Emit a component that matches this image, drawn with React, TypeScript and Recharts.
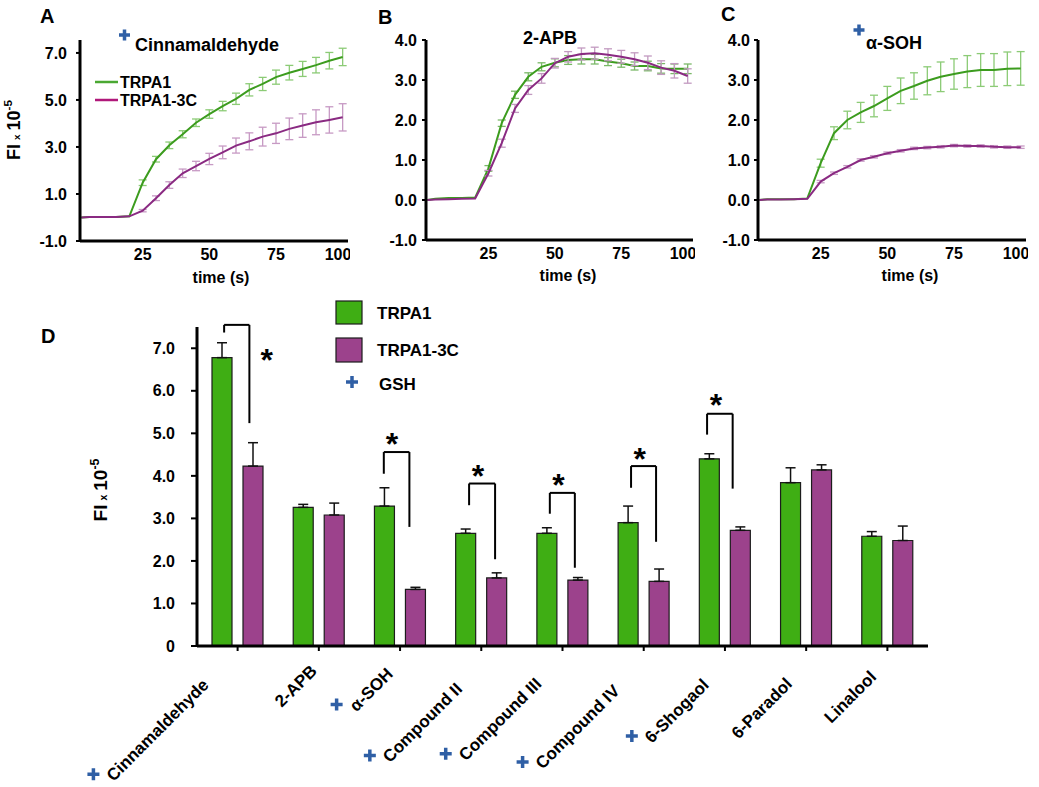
import React from 'react';
import { LineChart, Line, XAxis, YAxis, ErrorBar, BarChart, Bar, ReferenceLine, ReferenceDot } from 'recharts';

const FONT = 'Arial, "Liberation Sans", Helvetica, sans-serif';
const GREEN = '#3c9c1e';
const PURPLE = '#8a2a82';
const BAR_GREEN = '#3fae14';
const BAR_PURPLE = '#9c428c';
const PLUS_BLUE = '#2f5fa5';

// ---------- time courses (panels A-C) ----------
const times = [2, 5, 10, 15, 20, 25, 30, 35, 40, 45, 50, 55, 60, 65, 70, 75, 80, 85, 90, 95, 100];

const cinnTRPA1 = [0, 0.02, 0.02, 0.02, 0.05, 1.48, 2.48, 3.07, 3.54, 4.03, 4.4, 4.74, 5.05, 5.43, 5.68, 5.97, 6.16, 6.32, 6.48, 6.67, 6.83];
const cinnTRPA1Err = [0, 0, 0, 0, 0, 0.12, 0.12, 0.14, 0.15, 0.16, 0.18, 0.2, 0.24, 0.26, 0.28, 0.3, 0.31, 0.32, 0.33, 0.35, 0.37];
const cinnTRPA13C = [0, 0.02, 0.02, 0.02, 0.05, 0.29, 0.82, 1.38, 1.88, 2.19, 2.49, 2.77, 3.06, 3.24, 3.44, 3.58, 3.77, 3.91, 4.05, 4.15, 4.26];
const cinnTRPA13CErr = [0, 0, 0, 0, 0, 0.05, 0.1, 0.14, 0.18, 0.2, 0.24, 0.27, 0.32, 0.36, 0.4, 0.43, 0.46, 0.5, 0.53, 0.56, 0.58];

const apbTRPA1 = [0, 0.03, 0.05, 0.05, 0.06, 0.79, 1.92, 2.63, 3.08, 3.33, 3.43, 3.5, 3.52, 3.52, 3.46, 3.42, 3.35, 3.35, 3.29, 3.28, 3.28];
const apbTRPA1Err = [0, 0, 0, 0, 0, 0.07, 0.08, 0.09, 0.1, 0.1, 0.1, 0.11, 0.12, 0.12, 0.1, 0.1, 0.1, 0.12, 0.12, 0.12, 0.12];
const apbTRPA13C = [0, 0.01, 0.02, 0.03, 0.04, 0.67, 1.42, 2.29, 2.75, 3.04, 3.42, 3.58, 3.65, 3.67, 3.63, 3.58, 3.52, 3.43, 3.31, 3.23, 3.1];
const apbTRPA13CErr = [0, 0, 0, 0, 0, 0.07, 0.1, 0.1, 0.11, 0.12, 0.12, 0.13, 0.15, 0.15, 0.15, 0.16, 0.16, 0.17, 0.17, 0.18, 0.18];

const sohTRPA1 = [0, 0.02, 0.02, 0.02, 0.04, 0.92, 1.67, 2.0, 2.19, 2.35, 2.54, 2.73, 2.85, 2.98, 3.08, 3.15, 3.21, 3.25, 3.25, 3.28, 3.29];
const sohTRPA1Err = [0, 0, 0, 0, 0, 0.1, 0.16, 0.22, 0.25, 0.27, 0.3, 0.32, 0.33, 0.35, 0.37, 0.38, 0.4, 0.41, 0.41, 0.42, 0.42];
const sohTRPA13C = [0, 0.01, 0.01, 0.02, 0.03, 0.46, 0.67, 0.83, 1.0, 1.08, 1.17, 1.23, 1.29, 1.31, 1.33, 1.36, 1.35, 1.35, 1.33, 1.32, 1.32];
const sohTRPA13CErr = [0, 0, 0, 0, 0, 0.03, 0.03, 0.03, 0.03, 0.03, 0.03, 0.03, 0.03, 0.03, 0.03, 0.03, 0.03, 0.03, 0.03, 0.03, 0.03];

const timeTicks = [25, 50, 75, 100];
const ticksA = [-1, 1, 3, 5, 7];
const ticksBC = [-1, 0, 1, 2, 3, 4];

// ---------- summary bars (panel D) ----------
const categories = ['Cinnamaldehyde', '2-APB', 'α-SOH', 'Compound II', 'Compound III', 'Compound IV', '6-Shogaol', '6-Paradol', 'Linalool'];
const categoryPos = [0.5, 1.5, 2.5, 3.5, 4.5, 5.5, 6.5, 7.5, 8.5];
const withGSH = [true, false, true, true, true, true, true, false, false];
const trpa1Mean = [6.78, 3.26, 3.29, 2.65, 2.65, 2.9, 4.4, 3.84, 2.58];
const trpa1Sem = [0.35, 0.07, 0.43, 0.1, 0.13, 0.39, 0.12, 0.35, 0.11];
const trpa13cMean = [4.23, 3.08, 1.33, 1.6, 1.55, 1.52, 2.72, 4.14, 2.48];
const trpa13cSem = [0.55, 0.28, 0.05, 0.12, 0.06, 0.29, 0.08, 0.12, 0.34];
const barTicks = [0, 1, 2, 3, 4, 5, 6, 7];

// significance brackets
const sigIndex = [0, 2, 3, 4, 5, 6];
const sigTop = [7.55, 4.56, 3.82, 3.6, 4.23, 5.46];
const sigLeftEnd = [7.37, 4.05, 3.31, 3.11, 3.72, 4.97];
const sigRightEnd = [5.24, 2.8, 2.04, 1.84, 2.45, 3.7];
const sigStarY = [6.88, 4.91, 4.15, 3.96, 4.56, 5.84];
const sigStarDx = [0.36, -0.1, -0.04, -0.05, -0.05, -0.11];
const sigLeftDx = [-0.166, -0.2, -0.15, -0.156, -0.156, -0.22];
const sigRightDx = [0.145, 0.115, 0.17, 0.152, 0.152, 0.095];

// label anchor (end of baseline) offsets from tick / axis point
const labelEnd: [number, number][] = [[-28, 40], [-1, 26], [-6, 29], [-18, 44], [-20, 39], [-23, 46], [-15, 40], [-13, 39], [-10, 32]];

const buildSeries = (g: number[], ge: number[], p: number[], pe: number[]) =>
  times.map((t, i) => ({ t, g: g[i], ge: ge[i], p: p[i], pe: pe[i] }));

const dataA = buildSeries(cinnTRPA1, cinnTRPA1Err, cinnTRPA13C, cinnTRPA13CErr);
const dataB = buildSeries(apbTRPA1, apbTRPA1Err, apbTRPA13C, apbTRPA13CErr);
const dataC = buildSeries(sohTRPA1, sohTRPA1Err, sohTRPA13C, sohTRPA13CErr);

const barData = categories.map((c, i) => ({
  name: c,
  pos: categoryPos[i],
  a: trpa1Mean[i],
  ae: [0, trpa1Sem[i]],
  b: trpa13cMean[i],
  be: [0, trpa13cSem[i]],
}));

let ctx: CanvasRenderingContext2D | null = null;
const textWidth = (s: string, font: string) => {
  if (typeof document === 'undefined') return s.length * 9;
  if (!ctx) ctx = document.createElement('canvas').getContext('2d');
  if (!ctx) return s.length * 9;
  ctx.font = font;
  return ctx.measureText(s).width;
};

const Plus = ({ cx, cy, s = 6, w = 3.5 }: { cx: number; cy: number; s?: number; w?: number }) => (
  <path d={`M${cx - s} ${cy}H${cx + s}M${cx} ${cy - s}V${cy + s}`} stroke={PLUS_BLUE} strokeWidth={w} fill="none" />
);

const CategoryTick = (props: any) => {
  const { x, y, payload } = props;
  const i = categories.indexOf(payload.value);
  const [ox, oy] = labelEnd[i];
  const ax = Number(x) + ox;
  const ay = Number(y) - 5 + oy;
  const w = textWidth(payload.value, `bold 17px ${FONT}`);
  const sx = ax - w * Math.SQRT1_2;
  const sy = ay + w * Math.SQRT1_2;
  return (
    <g>
      <g transform={`translate(${ax},${ay}) rotate(-45)`}>
        <text x={0} y={0} textAnchor="end" fontSize={17} fontWeight="bold" fontFamily={FONT} fill="#000">
          {payload.value}
        </text>
      </g>
      {withGSH[i] && <Plus cx={sx - 20} cy={sy - 8} />}
    </g>
  );
};

const tickStyle = { fontSize: 16, fontWeight: 'bold', fill: '#000', fontFamily: FONT } as any;

type PanelProps = {
  left: number; width: number; data: any[]; yDomain: [number, number]; yTicks: number[];
  bottom: number; tickMargin: number; gErr: string; pErr: string;
};

const TimePanel = ({ left, width, data, yDomain, yTicks, bottom, tickMargin, gErr, pErr }: PanelProps) => (
  <div style={{ position: 'absolute', left, top: 0 }}>
    <LineChart width={width} height={290} data={data} margin={{ top: 40, right: 2, bottom: 0, left: 0 }}>
      <XAxis type="number" dataKey="t" domain={[1.5, 102]} ticks={timeTicks} allowDataOverflow tickLine={false}
        tickSize={6} tickMargin={2} axisLine={{ stroke: '#000', strokeWidth: 3 }} tick={tickStyle} height={bottom} />
      <YAxis type="number" domain={yDomain} ticks={yTicks} allowDataOverflow width={80} tickSize={4} tickMargin={tickMargin}
        tickLine={{ stroke: '#000', strokeWidth: 2 }} axisLine={{ stroke: '#000', strokeWidth: 3 }} tick={tickStyle}
        tickFormatter={(v: number) => v.toFixed(1)} />
      <Line type="linear" dataKey="g" stroke={GREEN} strokeWidth={2} dot={false} isAnimationActive={false}>
        <ErrorBar dataKey="ge" width={4} stroke={gErr} strokeWidth={1.3} direction="y" isAnimationActive={false} />
      </Line>
      <Line type="linear" dataKey="p" stroke={PURPLE} strokeWidth={2} dot={false} isAnimationActive={false}>
        <ErrorBar dataKey="pe" width={4} stroke={pErr} strokeWidth={1.3} direction="y" isAnimationActive={false} />
      </Line>
    </LineChart>
  </div>
);

const FILabel = ({ x, y, size }: { x: number; y: number; size: number }) => (
  <text transform={`translate(${x},${y}) rotate(-90)`} textAnchor="middle" fontFamily={FONT} fontWeight="bold" fill="#000">
    <tspan fontSize={size}>FI</tspan>
    <tspan fontSize={size * 0.55} dx={4}>x</tspan>
    <tspan fontSize={size} dx={4}>10</tspan>
    <tspan fontSize={size * 0.65} dy={-size * 0.42}>-5</tspan>
  </text>
);

export default function App() {
  return (
    <div style={{ position: 'absolute', left: 0, top: 0, width: 1039, height: 787, background: '#fff', overflow: 'hidden' }}>
      <TimePanel left={0} width={350} data={dataA} yDomain={[-1, 7.55]} yTicks={ticksA} bottom={49} tickMargin={9} gErr="#8ccb76" pErr="#c79ac4" />
      <TimePanel left={346} width={349} data={dataB} yDomain={[-1, 4]} yTicks={ticksBC} bottom={50} tickMargin={5} gErr="#7ab868" pErr="#c29ac0" />
      <TimePanel left={678} width={350} data={dataC} yDomain={[-1, 4]} yTicks={ticksBC} bottom={50} tickMargin={4} gErr="#8ccb76" pErr="#c79ac4" />

      <div style={{ position: 'absolute', left: 0, top: 300 }}>
        <BarChart width={940} height={487} data={barData} margin={{ top: 27, right: 12, bottom: 0, left: 0 }} barSize={20} barGap={11}>
          <XAxis dataKey="name" type="category" interval={0} height={141} tickSize={5} tickMargin={0}
            tickLine={{ stroke: '#000', strokeWidth: 2 }} axisLine={{ stroke: '#000', strokeWidth: 3 }} tick={<CategoryTick />} />
          <XAxis xAxisId="n" dataKey="pos" type="number" scale="linear" domain={[0, 9]} allowDataOverflow hide />
          <YAxis type="number" domain={[0, 7.5]} ticks={barTicks} allowDataOverflow width={197} tickSize={6} tickMargin={16}
            tickLine={{ stroke: '#000', strokeWidth: 2 }} axisLine={{ stroke: '#000', strokeWidth: 3 }} tick={tickStyle}
            tickFormatter={(v: number) => (v === 0 ? '0' : v.toFixed(1))} />
          <Bar dataKey="a" fill={BAR_GREEN} stroke="#1c1c1c" strokeWidth={1.2} isAnimationActive={false}>
            <ErrorBar dataKey="ae" width={5} stroke="#111" strokeWidth={1.5} direction="y" isAnimationActive={false} />
          </Bar>
          <Bar dataKey="b" fill={BAR_PURPLE} stroke="#1c1c1c" strokeWidth={1.2} isAnimationActive={false}>
            <ErrorBar dataKey="be" width={5} stroke="#111" strokeWidth={1.5} direction="y" isAnimationActive={false} />
          </Bar>
          {sigIndex.map((ci, k) => {
            const c = categoryPos[ci];
            return (
              <React.Fragment key={k}>
                <ReferenceLine xAxisId="n" ifOverflow="visible" stroke="#000" strokeWidth={2}
                  segment={[{ x: c + sigLeftDx[k], y: sigLeftEnd[k] }, { x: c + sigLeftDx[k], y: sigTop[k] }]} />
                <ReferenceLine xAxisId="n" ifOverflow="visible" stroke="#000" strokeWidth={2}
                  segment={[{ x: c + sigLeftDx[k], y: sigTop[k] }, { x: c + sigRightDx[k], y: sigTop[k] }]} />
                <ReferenceLine xAxisId="n" ifOverflow="visible" stroke="#000" strokeWidth={2}
                  segment={[{ x: c + sigRightDx[k], y: sigTop[k] }, { x: c + sigRightDx[k], y: sigRightEnd[k] }]} />
                <ReferenceDot xAxisId="n" x={c + sigStarDx[k]} y={sigStarY[k]} r={0} ifOverflow="visible"
                  shape={(p: any) => (
                    <text x={p.cx} y={p.cy + 18} textAnchor="middle" fontSize={32} fontWeight="bold" fontFamily={FONT} fill="#000">*</text>
                  )} />
              </React.Fragment>
            );
          })}
        </BarChart>
      </div>

      <svg width={1039} height={787} style={{ position: 'absolute', left: 0, top: 0, pointerEvents: 'none' }} fontFamily={FONT}>
        <text x={40} y={23} fontSize={20} fontWeight="bold">A</text>
        <text x={378} y={24} fontSize={20} fontWeight="bold">B</text>
        <text x={721} y={21} fontSize={20} fontWeight="bold">C</text>
        <text x={41} y={343} fontSize={20} fontWeight="bold">D</text>

        <Plus cx={124.5} cy={35} s={5.5} w={3.5} />
        <text x={135} y={45} fontSize={18} fontWeight="bold" dominantBaseline="central">Cinnamaldehyde</text>
        <text x={550} y={38} fontSize={18} fontWeight="bold" textAnchor="middle" dominantBaseline="central">2-APB</text>
        <Plus cx={859} cy={30} s={5.5} w={3.5} />
        <text x={866} y={43} fontSize={18} fontWeight="bold" dominantBaseline="central">α-SOH</text>

        <line x1={95} x2={118} y1={82} y2={82} stroke="#4aa832" strokeWidth={2.5} />
        <text x={120} y={82} fontSize={16} fontWeight="bold" dominantBaseline="central">TRPA1</text>
        <line x1={95} x2={118} y1={100} y2={100} stroke="#b0187a" strokeWidth={2.5} />
        <text x={120} y={100} fontSize={16} fontWeight="bold" dominantBaseline="central">TRPA1-3C</text>

        <FILabel x={20} y={130} size={18} />
        <FILabel x={107} y={490} size={19} />
        <text x={221} y={277} fontSize={16} fontWeight="bold" textAnchor="middle" dominantBaseline="central">time (s)</text>
        <text x={568} y={275} fontSize={16} fontWeight="bold" textAnchor="middle" dominantBaseline="central">time (s)</text>
        <text x={910} y={275} fontSize={16} fontWeight="bold" textAnchor="middle" dominantBaseline="central">time (s)</text>

        <rect x={336} y={301} width={26} height={23} fill={BAR_GREEN} stroke="#1c1c1c" strokeWidth={1.2} />
        <text x={377} y={313} fontSize={17} fontWeight="bold" dominantBaseline="central">TRPA1</text>
        <rect x={336} y={338} width={26} height={24} fill={BAR_PURPLE} stroke="#1c1c1c" strokeWidth={1.2} />
        <text x={377} y={350} fontSize={17} fontWeight="bold" dominantBaseline="central">TRPA1-3C</text>
        <Plus cx={352} cy={382} s={6} w={3.5} />
        <text x={379} y={384} fontSize={17} fontWeight="bold" dominantBaseline="central">GSH</text>
      </svg>
    </div>
  );
}
